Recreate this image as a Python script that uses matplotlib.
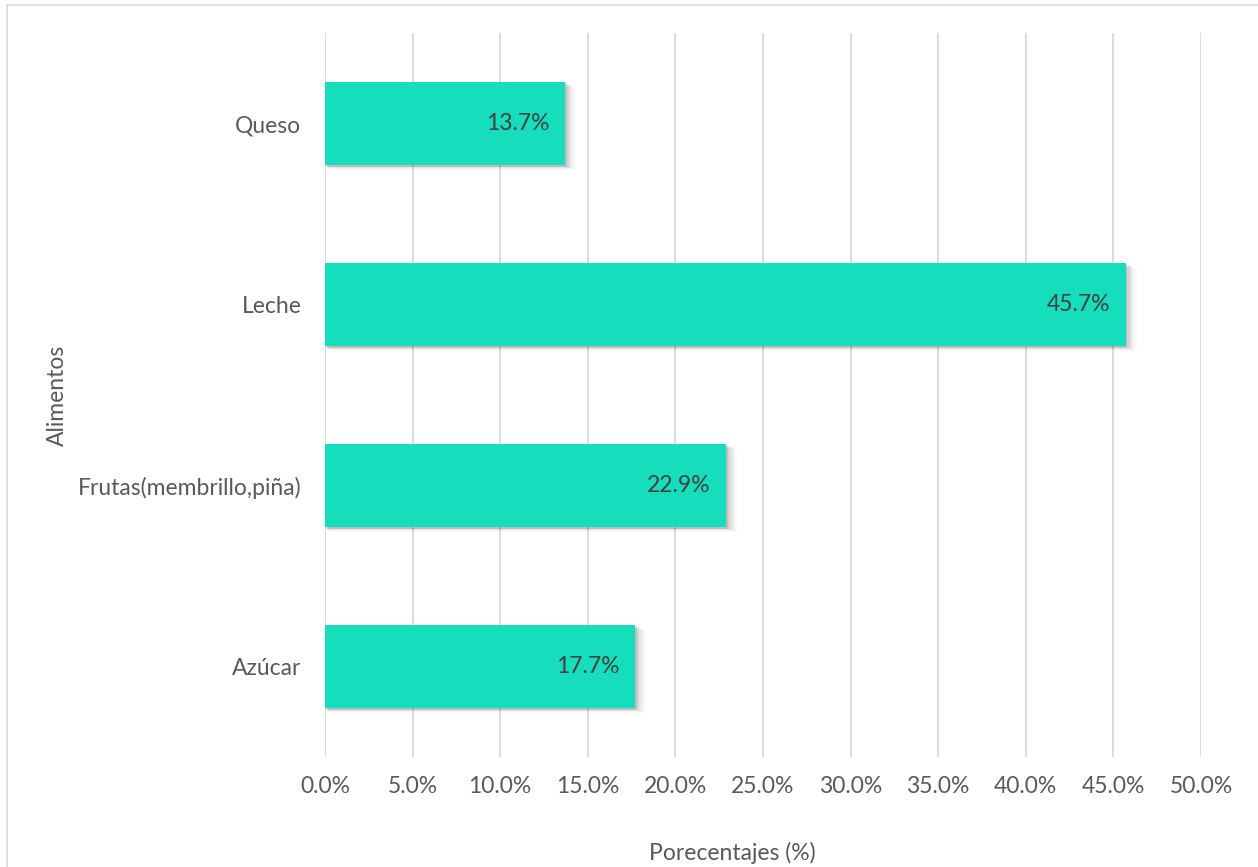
import matplotlib.pyplot as plt
from matplotlib.patches import Rectangle
from matplotlib.ticker import FuncFormatter

categories = ['Azúcar', 'Frutas(membrillo,piña)', 'Leche', 'Queso']
values = [17.7, 22.9, 45.7, 13.7]
xticks = [0, 5, 10, 15, 20, 25, 30, 35, 40, 45, 50]

BAR_COLOR = '#16DEBD'
TEXT_COLOR = '#595959'
FS = 16.5

plt.rcParams['font.family'] = ['Lato', 'DejaVu Sans']

fig = plt.figure(figsize=(12.58, 8.67), dpi=100)
ax = fig.add_axes([325 / 1258, 1 - 757 / 867, 876 / 1258, 724 / 867])

# outer chart frame (runs off the right and bottom edges)
fig.patches.append(Rectangle((7 / 1258, -0.01), 1.02, 1 - 5 / 867 + 0.01,
                             transform=fig.transFigure, fill=False,
                             edgecolor='#D9D9D9', linewidth=1.2, zorder=0))

ypos = range(len(categories))
bar_h = 0.46

# soft drop shadow behind each bar
for i, v in zip(ypos, values):
    for k, a in enumerate([0.10, 0.07, 0.05, 0.03, 0.02]):
        off = 0.10 + 0.09 * k
        ax.add_patch(Rectangle((0.05 + 0.04 * k, i - bar_h / 2 - 0.008 - 0.005 * k),
                               v + off - 0.05, bar_h,
                               facecolor='black', alpha=a, linewidth=0, zorder=2))

ax.barh(ypos, values, height=bar_h, color=BAR_COLOR, zorder=3)

for i, v in zip(ypos, values):
    ax.text(v - 0.9, i, f'{v:.1f}%', ha='right', va='center',
            fontsize=FS, color='#404040', zorder=4)

ax.set_xlim(0, 50)
ax.set_ylim(-0.5, 3.5)
ax.set_xticks(xticks)
ax.xaxis.set_major_formatter(FuncFormatter(lambda x, _: f'{x:.1f}%'))
ax.set_yticks(list(ypos))
ax.set_yticklabels(categories)

ax.grid(axis='x', color='#D9D9D9', linewidth=1.3, zorder=0)
ax.set_axisbelow(True)
for s in ax.spines.values():
    s.set_visible(False)
ax.tick_params(axis='both', length=0, labelsize=FS, colors=TEXT_COLOR)
ax.tick_params(axis='x', pad=14)
ax.tick_params(axis='y', pad=17)

fig.text(732 / 1258, 1 - 853 / 867, 'Porecentajes (%)', ha='center',
         va='center', fontsize=FS, color=TEXT_COLOR)
fig.text(57 / 1258, 1 - 395 / 867, 'Alimentos', rotation=90, ha='center',
         va='center', fontsize=FS, color=TEXT_COLOR)

fig.savefig('out.png', dpi=100)
